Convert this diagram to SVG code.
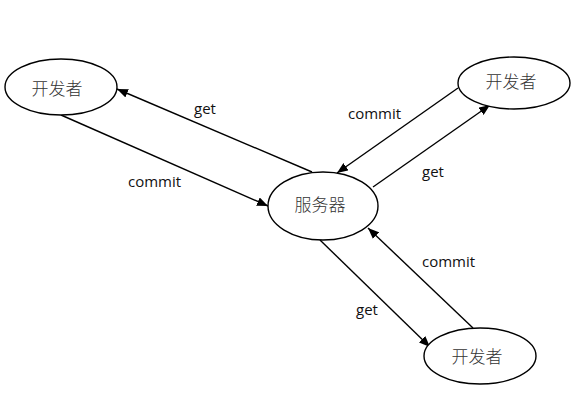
<svg xmlns="http://www.w3.org/2000/svg" width="582" height="401" viewBox="0 0 582 401">
<style>
.node ellipse{fill:#fff;stroke:#000;stroke-width:1.4}
.node text{font-family:"Noto Sans CJK SC","Noto Sans",sans-serif;font-size:17px;font-weight:300;fill:#333;text-anchor:middle;dominant-baseline:central}
.edge line{stroke:#000;stroke-width:1.4;marker-end:url(#ah)}
.lbl{font-family:"Open Sans","Liberation Sans",sans-serif;font-size:15px;fill:#111}
</style>
<defs>
<marker id="ah" viewBox="0 0 11 9" refX="11" refY="4.5" markerWidth="11" markerHeight="9" markerUnits="userSpaceOnUse" orient="auto">
<path d="M0,0 L11,4.5 L0,9 z" fill="#000"/>
</marker>
</defs>
<rect width="582" height="401" fill="#fff"/>
<g id="connectors">
<g class="edge">
<line x1="312" y1="172" x2="117" y2="89"/>
<line x1="61" y1="115" x2="268" y2="206"/>
<line x1="458" y1="88" x2="337" y2="173"/>
<line x1="373" y1="187" x2="490" y2="105"/>
<line x1="320" y1="240" x2="430" y2="347"/>
<line x1="473" y1="328" x2="368" y2="228"/>
</g>
<text class="lbl" x="194" y="114">get</text>
<text class="lbl" x="128" y="187">commit</text>
<text class="lbl" x="348" y="119">commit</text>
<text class="lbl" x="422" y="177">get</text>
<text class="lbl" x="422" y="267">commit</text>
<text class="lbl" x="356" y="315">get</text>
</g>
<g id="dev-left" class="node"><ellipse cx="61" cy="87" rx="56" ry="28"/><text x="57" y="87">开发者</text></g>
<g id="server" class="node"><ellipse cx="323" cy="206" rx="55" ry="34"/><text x="320" y="203">服务器</text></g>
<g id="dev-topright" class="node"><ellipse cx="514" cy="83" rx="56" ry="26"/><text x="511" y="80">开发者</text></g>
<g id="dev-bottomright" class="node"><ellipse cx="480" cy="356" rx="56" ry="28"/><text x="477" y="355">开发者</text></g>
</svg>
